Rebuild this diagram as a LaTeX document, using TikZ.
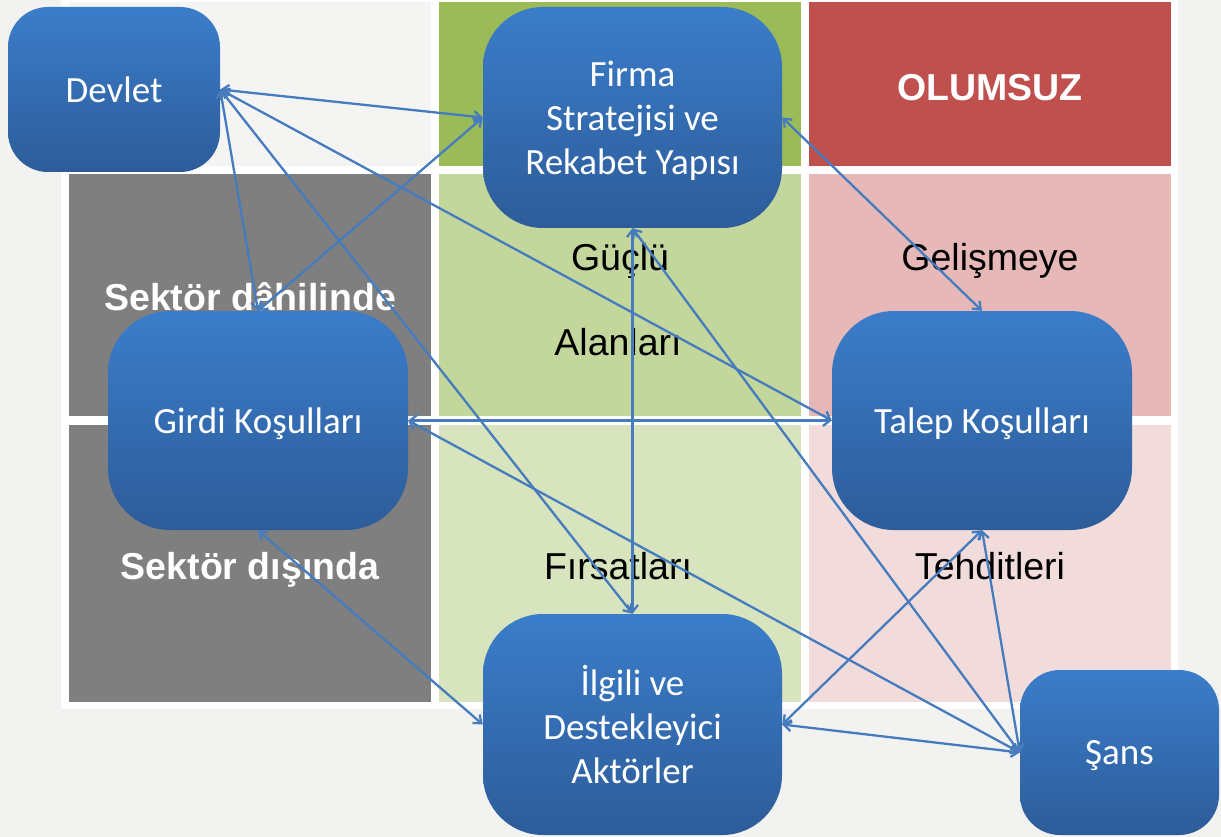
\documentclass[tikz,border=0pt]{standalone}
\usepackage{fontspec}
\setmainfont{Liberation Sans}
\newfontfamily\boxfont{Carlito}
\usetikzlibrary{arrows.meta}

\definecolor{pagegray}{RGB}{242,242,241}
\definecolor{cellgray}{RGB}{244,244,243}
\definecolor{sidegray}{RGB}{127,127,127}
\definecolor{topgreen}{RGB}{155,187,89}
\definecolor{midgreen}{RGB}{195,214,155}
\definecolor{palegreen}{RGB}{215,228,189}
\definecolor{topred}{RGB}{192,80,77}
\definecolor{midpink}{RGB}{230,185,184}
\definecolor{palepink}{RGB}{242,220,219}
\definecolor{boxtop}{RGB}{59,125,202}
\definecolor{boxbottom}{RGB}{45,92,153}
\definecolor{linkblue}{RGB}{70,124,190}

\begin{document}
\begin{tikzpicture}[
    x=1pt, y=-1pt,
    box/.style={rectangle, rounded corners=#1, top color=boxtop, bottom color=boxbottom,
      text=white, align=center, inner sep=0pt, text depth=0pt,
      font=\boxfont\fontsize{37}{44}\selectfont},
    lbl/.style={anchor=base, inner sep=0pt, font=\fontsize{37.5}{44}\selectfont},
    head/.style={lbl, text=white, font=\bfseries\fontsize{37.5}{44}\selectfont},
    link/.style={<->, >={Straight Barb[length=7pt,width=11pt]}, line width=2.3pt, draw=linkblue}
]

% page and table
\useasboundingbox (0,0) rectangle (1221,837);
\fill[pagegray] (0,0) rectangle (1221,837);
\fill[white] (61,-5) rectangle (1178,709);

\foreach \x/\c in {69/cellgray,439/topgreen,809/topred}
  \fill[\c] (\x,2) rectangle ++(362,164);
\foreach \x/\c in {69/sidegray,439/midgreen,809/midpink}
  \fill[\c] (\x,174) rectangle ++(362,242);
\foreach \x/\c in {69/sidegray,439/palegreen,809/palepink}
  \fill[\c] (\x,425) rectangle ++(362,277);

% cell texts
\node[head] (olumsuz) at (990,101) {OLUMSUZ};
\node[head] (ici) at (250,310) {Sektör dâhilinde};
\node[head] (disi) at (250,579) {Sektör dışında};
\node[lbl] (guclu) at (620,270) {Güçlü};
\node[lbl] (alanlari) at (618,355) {Alanları};
\node[lbl] (gelismeye) at (990,270) {Gelişmeye};
\node[lbl] (firsatlari) at (618,579) {Fırsatları};
\node[lbl] (tehditleri) at (990,579) {Tehditleri};

% boxes
\node[box=40, minimum width=212, minimum height=165] (devlet) at (114,89.5) {Devlet};
\node[box=60, minimum width=299, minimum height=221] (firma) at (632.5,117.5) {Firma\\Stratejisi ve\\Rekabet Yapısı};
\node[box=62, minimum width=300, minimum height=219] (girdi) at (258,420.5) {Girdi Koşulları};
\node[box=62, minimum width=300, minimum height=219] (talep) at (982,420.5) {Talep Koşulları};
\node[box=60, minimum width=299, minimum height=221] (ilgili) at (632.5,724.5) {İlgili ve\\Destekleyici\\Aktörler};
\node[box=40, minimum width=199, minimum height=165] (sans) at (1119.5,752.5) {Şans};

% links
\foreach \a/\b in {devlet.east/firma.west, devlet.east/girdi.north,
    devlet.east/ilgili.north, devlet.east/talep.west,
    girdi.north/firma.west, girdi.east/talep.west, girdi.east/sans.west,
    girdi.south/ilgili.west, firma.south/ilgili.north, firma.south/sans.west,
    firma.east/talep.north, talep.south/ilgili.east,
    sans.west/talep.south, sans.west/ilgili.east}
  \draw[link] (\a) -- (\b);

\end{tikzpicture}
\end{document}
